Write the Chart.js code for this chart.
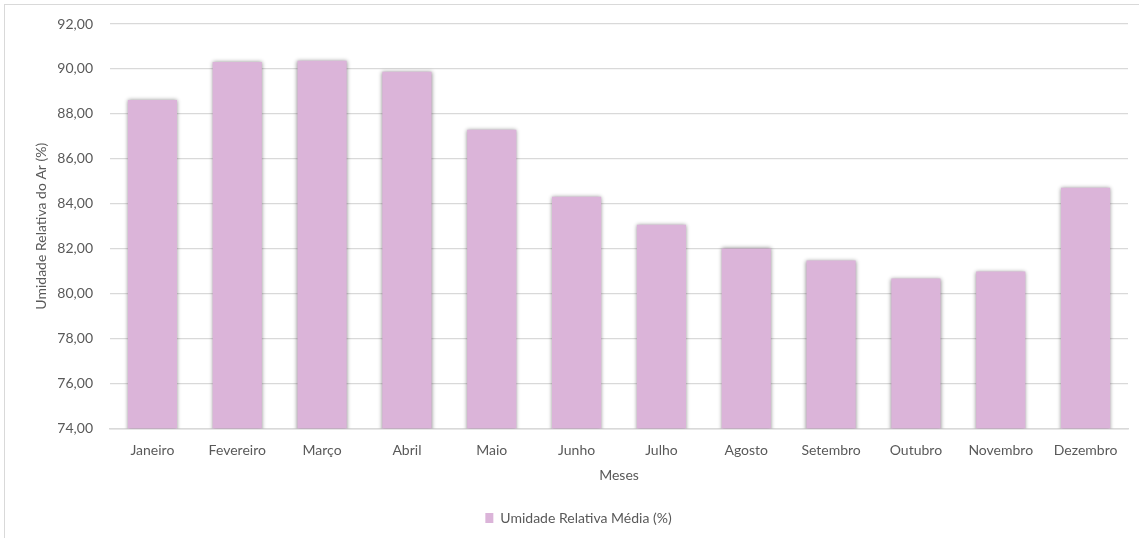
<!DOCTYPE html>
<html>
<head>
<meta charset="utf-8">
<script src="https://cdn.jsdelivr.net/npm/chart.js@4"></script>
<style>
  html, body { margin: 0; padding: 0; background: #fff; overflow: hidden; }
  #box {
    position: absolute; left: 4px; top: 4px;
    width: 1135px; height: 534px;
    border-top: 1px solid #d9d9d9; border-left: 1px solid #d9d9d9;
  }
</style>
</head>
<body>
<div id="box"><canvas id="myChart"></canvas></div>
<script>
const meses = ['Janeiro', 'Fevereiro', 'Março', 'Abril', 'Maio', 'Junho',
  'Julho', 'Agosto', 'Setembro', 'Outubro', 'Novembro', 'Dezembro'];
const umidade = [88.62, 90.31, 90.36, 89.87, 87.29, 84.31,
  83.07, 82.01, 81.47, 80.67, 80.98, 84.71];
const yMin = 74;
const yMax = 92;
const yStep = 2;

// soft shadow around the bars
const barShadow = {
  id: 'barShadow',
  beforeDatasetsDraw(chart) {
    const ctx = chart.ctx;
    ctx.save();
    ctx.shadowColor = 'rgba(0,0,0,0.45)';
    ctx.shadowBlur = 4;
    ctx.shadowOffsetX = 0;
    ctx.shadowOffsetY = 0;
  },
  afterDatasetsDraw(chart) {
    chart.ctx.restore();
  }
};

Chart.defaults.font.family = 'Lato, "Open Sans", sans-serif';
Chart.defaults.font.size = 14;
Chart.defaults.color = '#595959';

new Chart(document.getElementById('myChart'), {
  type: 'bar',
  data: {
    labels: meses,
    datasets: [{
      label: 'Umidade Relativa Média (%)',
      data: umidade,
      backgroundColor: '#dbb4d9',
      barPercentage: 0.58,
      categoryPercentage: 1
    }]
  },
  options: {
    responsive: true,
    maintainAspectRatio: false,
    animation: false,
    layout: { padding: { left: 24, right: 12, top: 19, bottom: 4 } },
    plugins: {
      tooltip: { enabled: false },
      legend: {
        position: 'bottom',
        labels: { boxWidth: 8, boxHeight: 10, padding: 23 }
      }
    },
    scales: {
      x: {
        grid: { display: false },
        border: { color: '#d9d9d9', width: 1.5 },
        ticks: { padding: 6 },
        title: { display: true, text: 'Meses', padding: { top: 2, bottom: 4 } }
      },
      y: {
        min: yMin,
        max: yMax,
        // fixed axis width; tick padding should not push the plot down
        afterFit: scale => {
          scale.width = 81;
          scale.paddingTop = 0;
          scale.paddingBottom = 0;
        },
        grid: { color: '#d9d9d9', lineWidth: 1.3, drawTicks: false },
        border: { display: false },
        ticks: {
          stepSize: yStep,
          padding: 17,
          callback: v => v.toFixed(2).replace('.', ',')
        },
        title: { display: true, text: 'Umidade Relativa do Ar (%)', padding: 4 }
      }
    }
  },
  plugins: [barShadow]
});
</script>
</body>
</html>
